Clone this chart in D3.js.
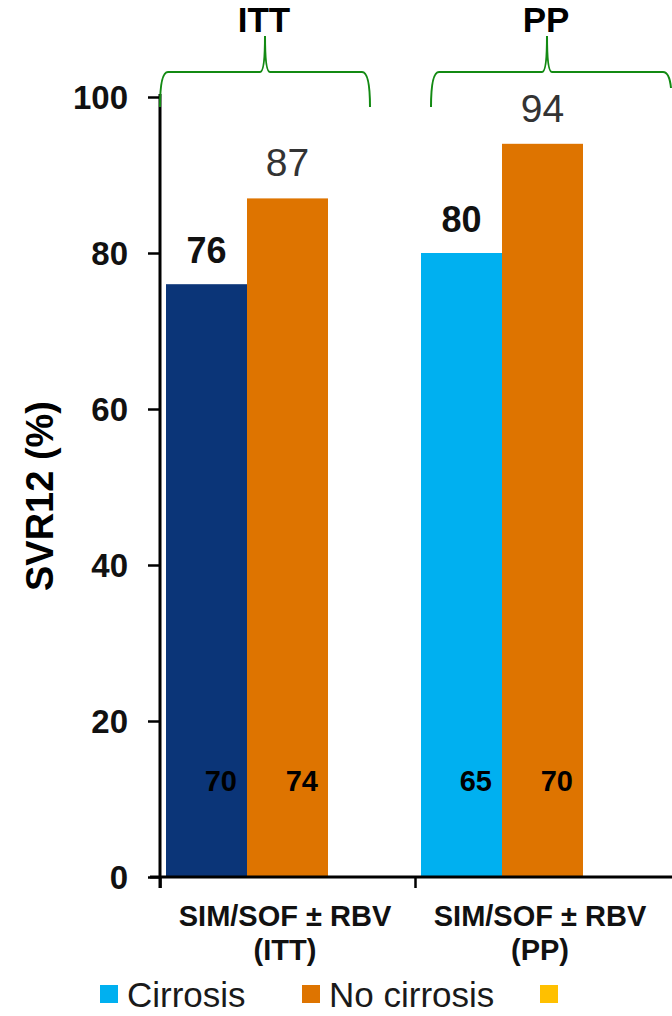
<!DOCTYPE html>
<html>
<head>
<meta charset="utf-8">
<script src="https://cdn.jsdelivr.net/npm/d3@7"></script>
<style>
  html, body { margin: 0; padding: 0; background: #fff; }
  svg { display: block; font-family: 'Liberation Sans', Arial, sans-serif; }
</style>
</head>
<body>
<script>
// data
const groups = ['ITT', 'PP']
const groupLabels = [['SIM/SOF \u00b1 RBV', '(ITT)'], ['SIM/SOF \u00b1 RBV', '(PP)']]
const series = ['Cirrosis', 'No cirrosis']
const cirrosis = [76, 80]
const noCirrosis = [87, 94]
const nCirrosis = [70, 65]
const nNoCirrosis = [74, 70]
const yTicks = [0, 20, 40, 60, 80, 100]
const legendItems = ['Cirrosis', 'No cirrosis', '']

// size of svg
const w = 672
const h = 1016

const svg = d3.select('body')
    .append('svg')
    .attr('width', w)
    .attr('height', h)

// scales
const yScale = d3.scaleLinear()
    .domain([0, 100])
    .range([877, 97])

const x0 = d3.scaleBand()
    .domain(groups)
    .range([160, 670])

const x1 = d3.scaleBand()
    .domain(series)
    .range([6, 168])

const rows = groups.map((g, i) => [
    { g, s: 'Cirrosis', v: cirrosis[i], n: nCirrosis[i], color: i === 0 ? '#0b3578' : '#00b0f0' },
    { g, s: 'No cirrosis', v: noCirrosis[i], n: nNoCirrosis[i], color: '#de7400' }
]).flat()

// bars
svg.selectAll('rect.bar')
    .data(rows)
    .enter()
    .append('rect')
    .attr('class', 'bar')
    .attr('x', d => x0(d.g) + x1(d.s))
    .attr('y', d => yScale(d.v))
    .attr('width', x1.bandwidth())
    .attr('height', d => yScale(0) - yScale(d.v))
    .style('fill', d => d.color)

// value labels on top
svg.selectAll('text.val')
    .data(rows)
    .enter()
    .append('text')
    .attr('class', 'val')
    .attr('x', d => x0(d.g) + x1(d.s) + x1.bandwidth() / 2)
    .attr('y', d => yScale(d.v) - (d.s === 'Cirrosis' ? 21 : 22))
    .attr('text-anchor', 'middle')
    .style('font-size', d => d.s === 'Cirrosis' ? '36px' : '39px')
    .style('font-weight', d => d.s === 'Cirrosis' ? 'bold' : 'normal')
    .style('fill', d => d.s === 'Cirrosis' ? '#111' : '#333')
    .text(d => d.v)

// n labels inside bars
svg.selectAll('text.n')
    .data(rows)
    .enter()
    .append('text')
    .attr('class', 'n')
    .attr('x', d => x0(d.g) + x1(d.s) + x1.bandwidth() - 10)
    .attr('y', 791)
    .attr('text-anchor', 'end')
    .style('font-size', '29px')
    .style('font-weight', 'bold')
    .style('fill', '#000')
    .text(d => d.n)

// y axis
const yAxis = svg.append('g')
    .attr('transform', 'translate(160,0)')
    .call(d3.axisLeft(yScale).tickValues(yTicks).tickSize(12).tickPadding(20))
yAxis.select('.domain').attr('d', 'M0,94V888').style('stroke', '#000').style('stroke-width', 3)
yAxis.selectAll('.tick line').style('stroke', '#000').style('stroke-width', 2.5)
yAxis.selectAll('.tick text')
    .style('font-size', '33px')
    .style('font-weight', 'bold')
    .style('fill', '#111')
    .attr('dy', '0.36em')

// x axis
const xAxis = svg.append('g')
    .attr('transform', `translate(0,${yScale(0)})`)
    .call(d3.axisBottom(d3.scalePoint().domain(groups).range([x0('ITT'), x0('PP')])).tickSize(11).tickFormat(''))
xAxis.select('.domain').attr('d', 'M150,0H672').style('stroke', '#000').style('stroke-width', 3)
xAxis.selectAll('.tick line').style('stroke', '#000').style('stroke-width', 2.5)

// category labels
groups.forEach((g, i) => {
    const cx = x0(g) + 125
    groupLabels[i].forEach((line, j) => {
        svg.append('text')
            .attr('x', cx)
            .attr('y', 926 + j * 34)
            .attr('text-anchor', 'middle')
            .style('font-size', '29px')
            .style('font-weight', 'bold')
            .style('fill', '#111')
            .text(line)
    })
})

// y axis label
svg.append('text')
    .attr('transform', 'translate(53,496) rotate(-90)')
    .attr('text-anchor', 'middle')
    .style('font-size', '38px')
    .style('font-weight', 'bold')
    .style('fill', '#000')
    .text('SVR12 (%)')

// braces and titles
const braces = [
    { title: 'ITT', x1: 160, x2: 370, mid: 265, bottom: 107 },
    { title: 'PP', x1: 431, x2: 670, mid: 547, bottom: 107 }
]
braces.forEach(b => {
    const right = b.title === 'PP'
        ? `L${b.x2 - 7},72 C${b.x2 - 2},72 ${b.x2},78 ${b.x2 + 1},88`
        : `L${b.x2 - 8},72 C${b.x2 - 2},72 ${b.x2},85 ${b.x2},${b.bottom}`
    svg.append('path')
        .attr('d', `M${b.x1},${b.bottom} C${b.x1},85 ${b.x1 + 2},72 ${b.x1 + 8},72 L${b.mid - 5},72 C${b.mid - 2},72 ${b.mid},62 ${b.mid},36 C${b.mid},62 ${b.mid + 2},72 ${b.mid + 5},72 ${right}`)
        .style('fill', 'none')
        .style('stroke', '#138a13')
        .style('stroke-width', 2)
    svg.append('text')
        .attr('x', b.mid - 1)
        .attr('y', 32)
        .attr('text-anchor', 'middle')
        .style('font-size', '35px')
        .style('font-weight', 'bold')
        .style('fill', '#000')
        .text(b.title)
})

// legend
const legendColors = ['#00b0f0', '#de7400', '#ffc000']
const legendX = [100, 302, 540]
legendItems.forEach((t, i) => {
    svg.append('rect')
        .attr('x', legendX[i])
        .attr('y', 985)
        .attr('width', 18)
        .attr('height', 18)
        .style('fill', legendColors[i])
    svg.append('text')
        .attr('x', legendX[i] + 27)
        .attr('y', 1007)
        .style('font-size', '35px')
        .style('fill', '#1a1a1a')
        .text(t)
})
</script>
</body>
</html>
